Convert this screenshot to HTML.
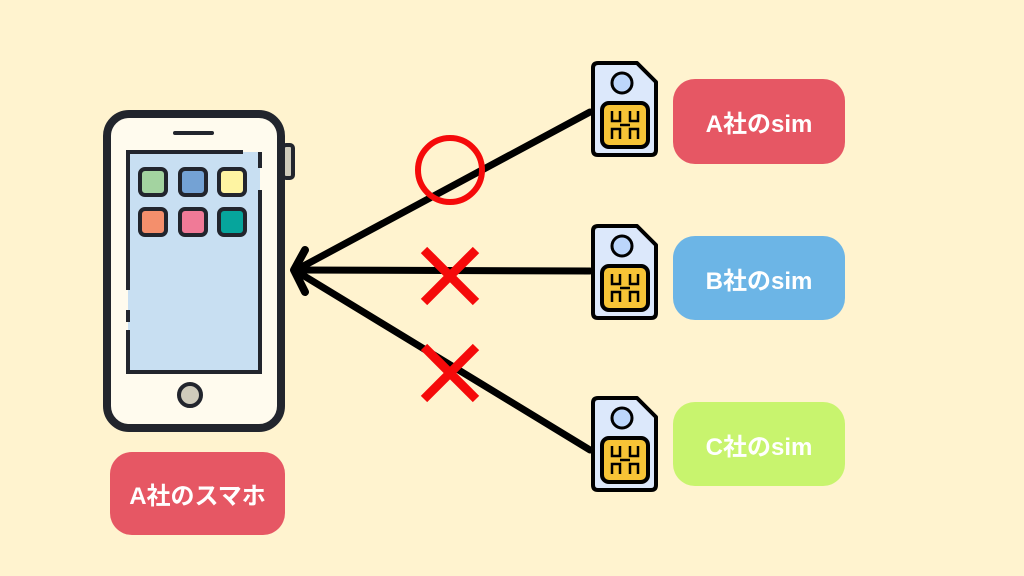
<!DOCTYPE html>
<html><head><meta charset="utf-8"><style>
body{margin:0;width:1024px;height:576px;background:#fff3cf;overflow:hidden;position:relative;font-family:"Liberation Sans","Noto Sans CJK JP",sans-serif}
.p{position:absolute;border-radius:22px;color:#fff;font-weight:bold;font-size:24px;display:flex;align-items:center;justify-content:center}
</style></head><body>
<svg width="1024" height="576" style="position:absolute;left:0;top:0">
<rect x="283" y="145" width="10" height="33" rx="3" fill="#cfcbbb" stroke="#22252d" stroke-width="4"/>
<rect x="107" y="114" width="174" height="314" rx="22" fill="#fffbee" stroke="#22252d" stroke-width="8"/>
<rect x="128" y="152" width="132" height="220" fill="#c8dff2"/>
<path d="M128 290 V152 H243 M260 152 V168 M260 190 V372 H128 V330 M128 322 V310" fill="none" stroke="#22252d" stroke-width="4"/>
<line x1="175" y1="133" x2="212" y2="133" stroke="#22252d" stroke-width="4" stroke-linecap="round"/>
<circle cx="190" cy="395" r="11" fill="#cfcbbb" stroke="#22252d" stroke-width="4"/>
<g stroke="#22252d" stroke-width="4">
<rect x="140" y="169" width="26" height="26" rx="5" fill="#a3d3a0"/>
<rect x="180" y="169" width="26" height="26" rx="5" fill="#74a2d4"/>
<rect x="219" y="169" width="26" height="26" rx="5" fill="#fef4a2"/>
<rect x="140" y="209" width="26" height="26" rx="5" fill="#f48f6c"/>
<rect x="180" y="209" width="26" height="26" rx="5" fill="#f07a97"/>
<rect x="219" y="209" width="26" height="26" rx="5" fill="#06a59c"/>
</g>
<g stroke="#000" stroke-width="7" stroke-linecap="round" fill="none">
<line x1="590" y1="112" x2="296" y2="270"/>
<line x1="590" y1="271" x2="296" y2="270"/>
<line x1="590" y1="450" x2="296" y2="271"/>
<path d="M305 250 L294 270 L305 292" stroke-linejoin="round" stroke-width="8"/>
</g>
<circle cx="450" cy="170" r="32" fill="none" stroke="#f50a0a" stroke-width="6"/>
<g stroke="#f50a0a" stroke-width="9">
<line x1="424" y1="250" x2="476" y2="302"/><line x1="476" y1="250" x2="424" y2="302"/>
<line x1="424" y1="347" x2="476" y2="399"/><line x1="476" y1="347" x2="424" y2="399"/>
</g>
<defs><g id="sim">
<path d="M598 2 H637 L656 21 V89 Q656 94 651 94 H598 Q593 94 593 89 V7 Q593 2 598 2 Z" fill="#dce8fb" stroke="#000" stroke-width="4" stroke-linejoin="round"/>
<circle cx="622" cy="22" r="10" fill="#bcd6fb" stroke="#000" stroke-width="3"/>
<rect x="602" y="42" width="46" height="44" rx="7" fill="#f7c436" stroke="#000" stroke-width="4"/>
<path d="M612 50 V60 H620 V50 M630 50 V60 H638 V50 M612 78 V68 H620 V78 M630 78 V68 H638 V78 M620 64 H630" fill="none" stroke="#000" stroke-width="2.5"/>
</g></defs>
<use href="#sim" y="61"/>
<use href="#sim" y="224"/>
<use href="#sim" y="396"/>
</svg>
<div class="p" style="left:673px;top:79px;width:172px;height:85px;background:#e65764">A社のsim</div>
<div class="p" style="left:673px;top:236px;width:172px;height:84px;background:#6cb5e6">B社のsim</div>
<div class="p" style="left:673px;top:402px;width:172px;height:84px;background:#c8f46e">C社のsim</div>
<div class="p" style="left:110px;top:452px;width:175px;height:83px;background:#e65764">A社のスマホ</div>
</body></html>
